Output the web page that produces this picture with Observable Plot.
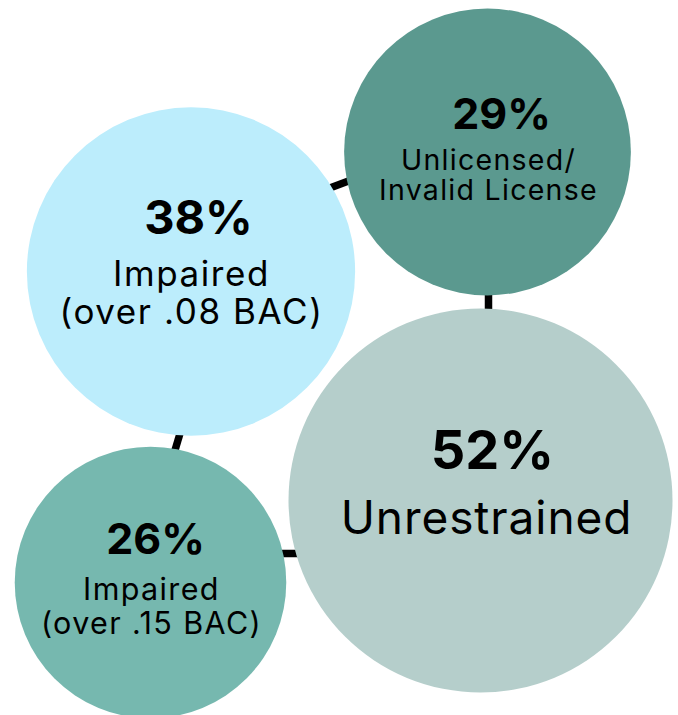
<!DOCTYPE html>
<html>
<head>
<meta charset="utf-8">
<script src="https://cdn.jsdelivr.net/npm/d3@7"></script>
<script src="https://cdn.jsdelivr.net/npm/@observablehq/plot@0.6"></script>
<style>
  html, body { margin: 0; padding: 0; background: #fff; }
  #chart svg { display: block; }
</style>
</head>
<body>
<div id="chart"></div>
<script>
// ---- data ----
const percents = [29, 38, 52, 26];
const labels = [
  ["Unlicensed/", "Invalid License"],
  ["Impaired", "(over .08 BAC)"],
  ["Unrestrained"],
  ["Impaired", "(over .15 BAC)"]
];
const colors = ["#5b998f", "#bcedfc", "#b5cecb", "#76b8af"];

// ---- layout (bubble centres in pixel space) ----
const cx = [487, 190.5, 480, 150];
const cy = [151.5, 271, 500, 582];
// percent text: x, baseline y, size
const pctX = [501, 198, 492, 155];
const pctY = [128, 233, 468, 553];
const pctSize = [43, 47, 54, 43];
// label text: x, first baseline y, line spacing, size
const labX = [488, 191, 486, 151];
const labY = [169, 285, 533, 599];
const labGap = [30, 38, 0, 34];
const labSize = [28.5, 35, 46, 30.5];
// connectors [x1, y1, x2, y2]
const links = [
  [300, 198.6, 380, 168.6],
  [488, 280, 488, 320],
  [181, 428, 172, 458],
  [270, 553, 310, 553]
];

const nodes = percents.map((v, i) => ({v, x: cx[i], y: cy[i], color: colors[i]}));
const pctRows = percents.map((v, i) => ({text: v + "%", x: pctX[i], y: pctY[i], size: pctSize[i]}));
const labRows = labels.flatMap((lines, i) => lines.map((t, j) => ({
  text: t, x: labX[i], y: labY[i] + j * labGap[i], size: labSize[i], big: lines.length === 1
})));
const linkRows = links.map(([x1, y1, x2, y2]) => ({x1, y1, x2, y2}));

const font = "Inter, 'Open Sans', sans-serif";
const labelOpts = {x: "x", y: "y", text: "text", fontSize: "size", fontWeight: 400, fill: "#000", lineAnchor: "bottom", textAnchor: "middle"};

const chart = Plot.plot({
  width: 678,
  height: 715,
  margin: 0,
  style: {background: "#fff", fontFamily: font},
  x: {domain: [0, 678], range: [0, 678], axis: null},
  y: {domain: [0, 715], range: [0, 715], axis: null},
  r: {type: "sqrt", domain: [0, 52], range: [0, 192]},
  marks: [
    Plot.link(linkRows, {x1: "x1", y1: "y1", x2: "x2", y2: "y2", stroke: "#000", strokeWidth: 7.5}),
    Plot.dot(nodes, {x: "x", y: "y", r: "v", fill: "color", stroke: "none"}),
    Plot.text(pctRows, {x: "x", y: "y", text: "text", fontSize: "size", fontWeight: 700, fill: "#000", lineAnchor: "bottom", textAnchor: "middle"}),
    Plot.text(labRows, labelOpts)
  ]
});
// letter spacing for the label texts (the wider original typeface)
const smallSet = new Set(labRows.filter(d => !d.big).map(d => d.text));
const bigSet = new Set(labRows.filter(d => d.big).map(d => d.text));
d3.select(chart).selectAll("text").each(function () {
  const t = this.textContent;
  if (smallSet.has(t)) this.style.letterSpacing = "0.045em";
  else if (bigSet.has(t)) this.style.letterSpacing = "0.02em";
});
document.getElementById("chart").append(chart);
</script>
</body>
</html>
